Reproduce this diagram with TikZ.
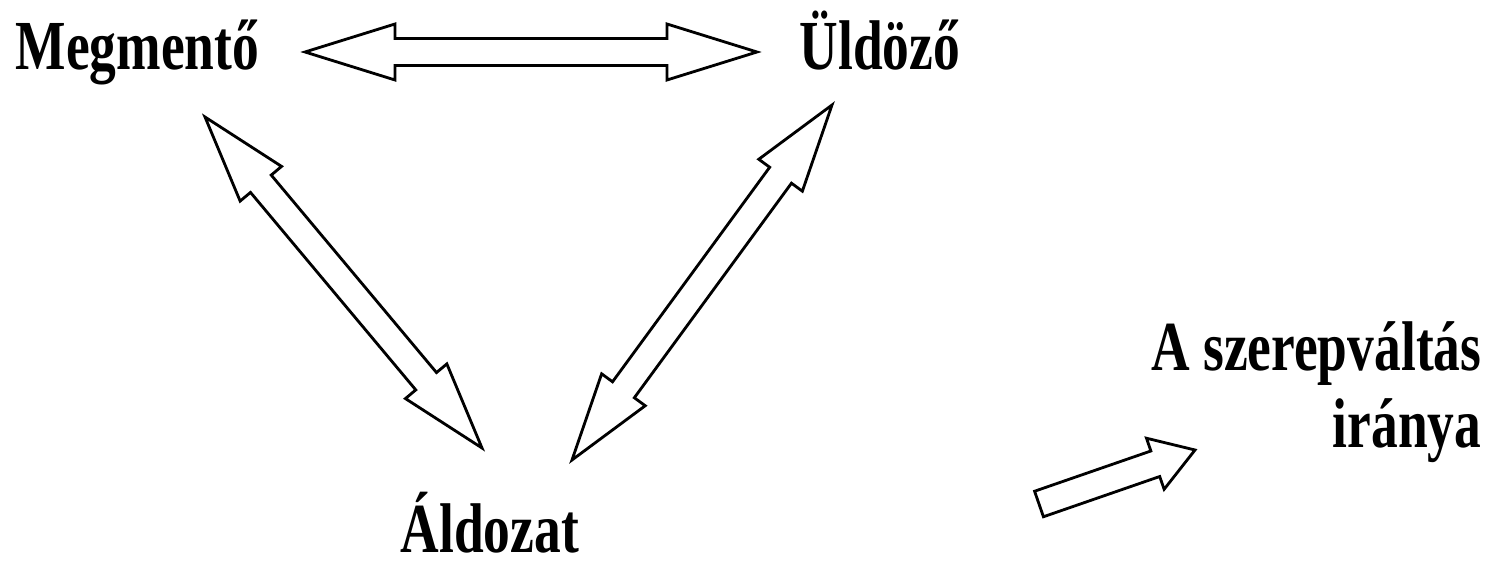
\documentclass[tikz,border=0pt]{standalone}
\usepackage{fontspec}
\setmainfont{Liberation Serif}[FakeStretch=0.76]
\usepackage{tikz}
\usetikzlibrary{positioning, calc}
\definecolor{dramaink}{RGB}{0, 0, 0}
\tikzset{
  role/.style={
    inner sep=0pt,
    text=dramaink,
    font=\fontsize{20pt}{22pt}\selectfont\bfseries
  },
  blockarrow/.style={
    draw=dramaink,
    line width=0.8pt,
    line join=miter,
    fill=white
  }
}
\newcommand{\shaftw}{0.135cm}
% double block arrow between two tips: #1,#2 tips, #3 head length, #4 half head width
\newcommand{\dblarrow}[4]{%
  \draw[blockarrow] (#1)
    -- ($ ($(#1)!#3!(#2)$) !#4!90:(#2) $)
    -- ($ ($(#1)!#3!(#2)$) !\shaftw!90:(#2) $)
    -- ($ ($(#2)!#3!(#1)$) !\shaftw!-90:(#1) $)
    -- ($ ($(#2)!#3!(#1)$) !#4!-90:(#1) $)
    -- (#2)
    -- ($ ($(#2)!#3!(#1)$) !#4!90:(#1) $)
    -- ($ ($(#2)!#3!(#1)$) !\shaftw!90:(#1) $)
    -- ($ ($(#1)!#3!(#2)$) !\shaftw!-90:(#2) $)
    -- ($ ($(#1)!#3!(#2)$) !#4!-90:(#2) $)
    -- cycle;
}
% single block arrow: #1 tail, #2 tip
\newcommand{\sglarrow}[4]{%
  \draw[blockarrow] ($(#1)!\shaftw!90:(#2)$)
    -- ($ ($(#2)!#3!(#1)$) !\shaftw!-90:(#1) $)
    -- ($ ($(#2)!#3!(#1)$) !#4!-90:(#1) $)
    -- (#2)
    -- ($ ($(#2)!#3!(#1)$) !#4!90:(#1) $)
    -- ($ ($(#2)!#3!(#1)$) !\shaftw!90:(#1) $)
    -- ($(#1)!\shaftw!-90:(#2)$)
    -- cycle;
}

\begin{document}
\begin{tikzpicture}[x=0.01cm, y=-0.01cm]
  \useasboundingbox (0,0) rectangle (1497,561);

  % roles
  \node[role, anchor=base west] (megmento) at (15,70) {Megmentő};
  \node[role, anchor=base west] (uldozo) at (799,70) {Üldöző};
  \node[role, anchor=base west] (aldozat) at (400,552) {Áldozat};
  \node[role, anchor=base east] (valtas) at (1482,370) {A szerepváltás};
  \node[role, anchor=base east] (iranya) at ($(valtas.base east)+(0,78)$) {iránya};

  % arrow tips
  \coordinate (mu1) at (305,52);
  \coordinate (mu2) at (757,52);
  \coordinate (ma1) at (205,117);
  \coordinate (ma2) at (482,448);
  \coordinate (ua1) at (832,105);
  \coordinate (ua2) at (572,460);
  \coordinate (dir1) at (1039,504);
  \coordinate (dir2) at (1195,450);

  \dblarrow{mu1}{mu2}{0.9cm}{0.28cm}
  \dblarrow{ma1}{ma2}{0.87cm}{0.27cm}
  \dblarrow{ua1}{ua2}{0.87cm}{0.27cm}
  \sglarrow{dir1}{dir2}{0.42cm}{0.27cm}
\end{tikzpicture}
\end{document}
